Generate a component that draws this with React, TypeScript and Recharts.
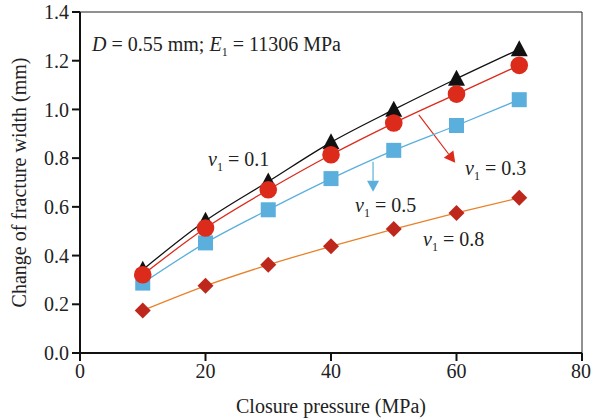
import { LineChart, Line, XAxis, YAxis, ReferenceLine } from "recharts";

// closure pressure (MPa)
const pressure = [10, 20, 30, 40, 50, 60, 70];
// change of fracture width (mm) for each Poisson ratio
const nu01 = [0.342, 0.543, 0.704, 0.865, 0.999, 1.126, 1.247];
const nu03 = [0.321, 0.513, 0.67, 0.814, 0.944, 1.063, 1.181];
const nu05 = [0.287, 0.452, 0.588, 0.716, 0.832, 0.934, 1.04];
const nu08 = [0.175, 0.276, 0.362, 0.438, 0.509, 0.575, 0.637];

const xTicks = [0, 20, 40, 60, 80];
const yTicks = [0, 0.2, 0.4, 0.6, 0.8, 1.0, 1.2, 1.4];

const data = pressure.map((p, i) => ({
    p,
    nu01: nu01[i],
    nu03: nu03[i],
    nu05: nu05[i],
    nu08: nu08[i],
}));

const FONT = "'Liberation Serif', 'Times New Roman', serif";
const FS = 20;

const Triangle = (props: any) => {
    const { cx, cy } = props;
    if (cx == null || cy == null) return null;
    return <polygon points={`${cx},${cy - 9} ${cx - 8.5},${cy + 7} ${cx + 8.5},${cy + 7}`} fill="#111" />;
};
const Circle = (props: any) => {
    const { cx, cy } = props;
    if (cx == null || cy == null) return null;
    return <circle cx={cx} cy={cy} r={8.8} fill="#dc2a1b" />;
};
const Square = (props: any) => {
    const { cx, cy } = props;
    if (cx == null || cy == null) return null;
    return <rect x={cx - 7.5} y={cy - 7.5} width={15} height={15} fill="#5aafdc" />;
};
const Diamond = (props: any) => {
    const { cx, cy } = props;
    if (cx == null || cy == null) return null;
    return <polygon points={`${cx},${cy - 8} ${cx + 8},${cy} ${cx},${cy + 8} ${cx - 8},${cy}`} fill="#bd271c" />;
};

const arrowShape = (color: string) => (props: any) => {
    const { x1, y1, x2, y2 } = props;
    if (x1 == null) return null;
    const ang = Math.atan2(y2 - y1, x2 - x1);
    const len = 11;
    const w = 6;
    const bx = x2 - len * Math.cos(ang);
    const by = y2 - len * Math.sin(ang);
    const px = -Math.sin(ang) * w;
    const py = Math.cos(ang) * w;
    return (
        <g>
            <line x1={x1} y1={y1} x2={bx} y2={by} stroke={color} strokeWidth={1.2} />
            <polygon points={`${x2},${y2} ${bx + px},${by + py} ${bx - px},${by - py}`} fill={color} />
        </g>
    );
};

const Nu = ({ v }: { v: string }) => (
    <span>
        <i>ν</i>
        <sub style={{ fontSize: 12, verticalAlign: "-5px" }}>1</sub> = {v}
    </span>
);

const note = (left: number, top: number): React.CSSProperties => ({
    position: "absolute",
    left,
    top,
    fontFamily: FONT,
    fontSize: FS,
    color: "#222",
    whiteSpace: "nowrap",
    lineHeight: "22px",
});

export default function App() {
    return (
        <div style={{ position: "relative", width: 591, height: 419, background: "#fff" }}>
            <style>{`body{margin:0}`}</style>
            <LineChart width={591} height={419} data={data} margin={{ top: 12, right: 9, left: 0, bottom: 0 }}>
                <XAxis
                    dataKey="p"
                    type="number"
                    domain={[0, 80]}
                    ticks={xTicks}
                    height={66}
                    tickSize={8}
                    tickMargin={3}
                    stroke="#111"
                    strokeWidth={2}
                    tick={{ fontSize: FS, fill: "#222", fontFamily: FONT }}
                    label={{
                        value: "Closure pressure (MPa)",
                        position: "insideBottom",
                        offset: 6,
                        style: { fontSize: FS, fill: "#222", fontFamily: FONT },
                    }}
                />
                <YAxis
                    type="number"
                    domain={[0, 1.4]}
                    ticks={yTicks}
                    width={80}
                    tickSize={8}
                    tickMargin={3}
                    stroke="#111"
                    strokeWidth={2}
                    tickFormatter={(v: number) => v.toFixed(1)}
                    tick={{ fontSize: FS, fill: "#222", fontFamily: FONT }}
                    label={{
                        value: "Change of fracture width (mm)",
                        angle: -90,
                        position: "insideLeft",
                        offset: 19,
                        style: { fontSize: FS, fill: "#222", fontFamily: FONT, textAnchor: "middle" },
                    }}
                />
                <ReferenceLine y={1.4} stroke="#222" strokeWidth={1} />
                <ReferenceLine x={80} stroke="#222" strokeWidth={1} />
                <ReferenceLine segment={[{ x: 54.0, y: 0.978 }, { x: 59.8, y: 0.781 }]} shape={arrowShape("#dc2a1b")} />
                <ReferenceLine segment={[{ x: 46.7, y: 0.785 }, { x: 46.7, y: 0.662 }]} shape={arrowShape("#5aafdc")} />
                <Line type="monotone" dataKey="nu08" stroke="#e8822a" strokeWidth={1.3} dot={<Diamond />} isAnimationActive={false} />
                <Line type="monotone" dataKey="nu05" stroke="#5aafdc" strokeWidth={1.3} dot={<Square />} isAnimationActive={false} />
                <Line type="monotone" dataKey="nu01" stroke="#111" strokeWidth={1.3} dot={<Triangle />} isAnimationActive={false} />
                <Line type="monotone" dataKey="nu03" stroke="#dc2a1b" strokeWidth={1.3} dot={<Circle />} isAnimationActive={false} />
            </LineChart>
            <div style={note(92, 33)}>
                <i>D</i> = 0.55 mm; <i>E</i>
                <sub style={{ fontSize: 12, verticalAlign: "-5px" }}>1</sub> = 11306 MPa
            </div>
            <div style={note(208, 148)}><Nu v="0.1" /></div>
            <div style={note(465, 157)}><Nu v="0.3" /></div>
            <div style={note(355, 194)}><Nu v="0.5" /></div>
            <div style={note(423, 228)}><Nu v="0.8" /></div>
        </div>
    );
}
